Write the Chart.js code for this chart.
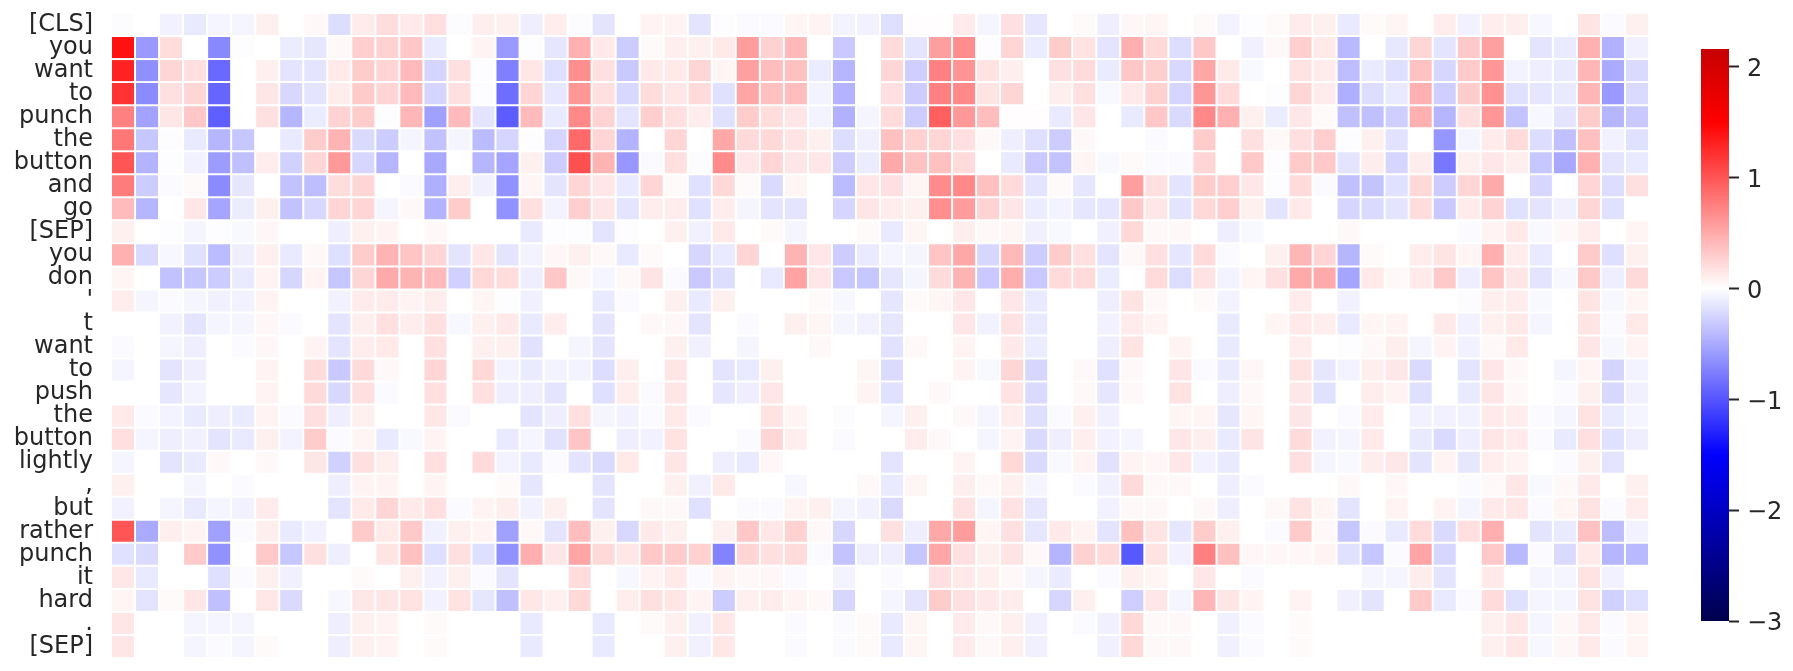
<!DOCTYPE html>
<html lang="en">

<head>
    <meta charset="UTF-8">
    <title>Token attribution heatmap</title>
    <script src="https://cdn.jsdelivr.net/npm/chart.js"></script>
    <style>
        body {
            margin: 0;
            background-color: #ffffff;
        }

        #heatmap {
            position: absolute;
            left: 0;
            top: 0;
        }

        #colorbar {
            position: absolute;
            left: 1701px;
            top: 0;
        }
    </style>
</head>

<body>
    <canvas id="heatmap" width="1793" height="671"></canvas>
    <canvas id="colorbar" width="92" height="671"></canvas>

    <script>
        const tokens = ["[CLS]", "you", "want", "to", "punch", "the", "button", "and", "go", "[SEP]",
            "you", "don", "'", "t", "want", "to", "push", "the", "button", "lightly",
            ",", "but", "rather", "punch", "it", "hard", ".", "[SEP]"];

        const colorbarTicks = [-3, -2, -1, 0, 1, 2];
        const colorbarMin = -3;
        const colorbarMax = 2.16;

        // one list per token, 64 values each
        const scores = [
            [-.02,0,-.08,-.13,-.06,-.06,.09,0,.04,-.2,.12,.2,.13,.19,-.02,.1,.09,-.1,.11,-.02,-.16,0,.07,.07,-.16,-.01,-.03,-.03,.06,.07,-.07,-.08,-.19,.01,.01,.12,-.06,.18,-.15,0,.03,-.1,.05,.06,0,.03,-.07,-.01,.03,.12,.09,-.13,.03,.06,0,.11,-.08,.11,.1,-.05,0,.16,-.03,.09],
            [1.4,-.6,.2,0,-.7,-.01,0,-.11,-.15,.04,.28,.27,.33,-.13,0,.07,-.6,-.01,-.15,.46,.13,-.3,.03,.1,.09,.13,.58,.27,.41,0,-.32,0,.21,-.16,.57,.67,-.01,.25,-.11,.3,.17,-.16,.47,.23,-.2,.32,0,-.09,.04,.28,.13,-.41,0,-.14,.24,-.16,.32,.56,0,-.16,-.12,.46,-.46,-.09],
            [1.3,-.66,.24,.19,-.88,0,.09,-.16,-.16,.13,.3,.25,.4,-.25,.18,-.01,-.75,.14,-.19,.66,.18,-.32,.13,.13,.24,.06,.56,.39,.37,-.11,-.43,0,.24,-.28,.75,.63,.17,.1,0,.18,.21,-.12,.33,.29,-.23,.52,.13,-.04,0,.17,.12,-.39,-.12,-.19,.36,-.24,.31,.61,-.07,-.1,-.13,.43,-.5,-.22],
            [1.2,-.68,.18,.24,-.9,0,.15,-.23,-.16,.11,.31,.25,.4,-.25,.18,-.01,-.86,.25,-.14,.61,.18,-.23,.2,.14,.21,-.18,.53,.37,.39,-.07,-.45,0,.19,-.3,.75,.7,.16,.24,0,.1,.18,-.04,.13,.27,-.25,.62,.21,0,-.01,.24,.12,-.47,-.2,-.13,.46,-.28,.3,.65,-.18,-.15,-.13,.43,-.6,-.22],
            [.75,-.54,.15,.33,-.94,0,.18,-.43,-.11,.26,.3,-.01,.43,-.56,.4,-.16,-.96,.4,-.13,.7,.26,-.16,.28,.19,.11,-.18,.3,.2,.15,-.07,-.46,-.06,.21,-.3,.94,.6,.39,.01,.01,-.13,.15,0,-.13,.33,-.22,.7,.46,.09,-.11,.14,.03,-.37,-.37,-.29,.46,-.43,.19,.61,-.35,-.05,-.16,.3,-.43,-.32],
            [.8,-.33,-.01,-.13,-.43,-.33,0,-.13,.3,.44,-.22,-.3,-.06,-.36,-.06,-.4,-.25,-.01,-.25,.88,.25,-.45,0,.24,0,.51,.22,.23,.16,.09,-.2,-.09,.37,.27,.25,.19,.04,-.1,-.19,-.3,.04,0,0,-.03,0,.3,0,.18,.04,.19,.28,-.01,.09,-.17,0,-.62,-.06,.12,.21,-.2,-.37,.37,-.08,-.18],
            [1.0,-.45,-.01,-.08,-.58,-.37,.11,-.27,.24,.6,-.24,-.43,0,-.51,0,-.43,-.53,.09,-.3,1.03,.44,-.61,-.03,.19,-.02,.68,.14,.25,.15,.14,-.3,-.11,.5,.36,.37,.21,0,-.13,-.32,-.35,.06,-.04,.03,-.03,-.03,.25,0,.32,-.01,.31,.32,-.16,.11,-.25,.11,-.8,.09,.14,.1,-.33,-.51,.46,-.16,-.13],
            [.77,-.3,-.03,.03,-.68,-.15,0,-.36,-.39,.2,.24,0,-.03,-.47,.1,-.09,-.65,.06,-.16,.24,.14,-.13,.25,.03,-.18,.23,.03,-.22,.06,0,-.4,.14,.18,.06,.68,.7,.37,.21,-.16,.03,-.15,0,.57,.18,-.16,.3,.28,.14,-.01,.21,-.03,-.37,-.35,-.18,.23,-.3,.25,.5,0,-.24,0,.25,-.2,.18],
            [.4,-.43,0,.14,-.53,-.11,.09,-.36,-.23,.25,.25,-.06,.04,-.45,.3,0,-.65,.18,-.07,.28,.15,-.16,.11,.11,-.18,.11,-.06,-.16,-.16,0,-.25,.15,.11,.09,.66,.58,.26,.15,-.11,-.07,-.15,-.15,.32,.14,-.16,.23,.28,.09,-.16,.13,0,-.25,-.22,-.16,.2,-.32,.12,.26,-.18,-.16,-.09,.24,-.18,0],
            [.09,0,-.01,-.06,-.01,-.04,.05,0,0,-.1,.09,.07,0,.04,0,0,0,-.13,-.01,-.01,-.16,-.01,0,.09,-.09,.13,0,.03,-.06,0,0,.03,-.13,.06,0,.1,.04,.06,-.09,-.04,0,-.09,.23,.04,.04,0,-.1,-.04,0,0,0,.04,0,0,0,0,-.03,.07,.13,-.04,.04,.11,0,.06],
            [.46,-.22,-.05,-.18,-.4,-.1,.09,-.13,.04,-.19,.3,.44,.35,.24,-.16,.14,-.16,-.07,.05,.09,.04,-.13,.03,0,-.24,-.13,.25,0,.44,.14,-.3,-.13,-.06,-.06,.35,.51,-.24,.41,-.3,.3,.18,-.16,.04,.18,-.15,.21,-.03,0,.09,.43,.25,-.43,.03,0,.11,.16,.06,.47,.11,-.13,0,.31,-.19,.09],
            [.06,0,-.36,-.33,-.3,-.13,.07,-.24,.07,-.33,.24,.5,.44,.4,-.27,.23,.2,-.1,.33,.04,-.06,.04,.16,-.03,-.32,-.2,0,-.13,.54,.14,-.32,-.33,-.15,-.06,.21,.44,-.32,.48,-.32,.21,.21,-.11,0,.21,-.2,.17,-.07,.06,.18,.5,.5,-.53,.13,.04,.13,.32,-.1,.35,.15,-.16,-.05,.32,-.1,.22],
            [.11,-.06,-.03,-.06,-.09,-.08,.07,0,0,-.08,.12,.12,.07,.11,0,.06,-.01,-.09,0,0,-.13,-.03,0,.09,-.13,.09,0,0,0,.03,-.05,0,-.15,.03,.06,.14,0,.14,-.13,0,0,-.1,.16,.04,0,.03,-.07,0,0,.12,0,-.08,0,0,0,0,-.02,.1,.11,-.04,0,.16,-.05,.06],
            [0,0,-.08,-.16,-.06,-.06,.05,-.03,0,-.16,.1,.18,.11,.18,-.05,.09,.13,-.13,.11,0,-.16,0,.04,.05,-.16,0,-.03,0,.09,.06,-.06,-.08,-.15,0,0,.14,-.08,.17,-.13,0,0,-.08,.12,.07,0,0,-.13,0,.06,.13,.1,-.13,.06,.07,0,.13,-.08,.09,.13,-.06,0,.16,-.03,.13],
            [-.03,0,-.06,-.1,0,-.03,.05,0,.07,-.16,.11,.13,0,.18,0,.09,.09,-.17,0,-.06,-.16,0,0,.09,-.09,0,-.06,0,0,.04,0,0,-.17,.04,0,.07,0,.13,-.11,0,0,-.1,.16,0,.07,0,-.13,0,0,.11,0,-.01,.04,.1,-.06,.07,-.08,.04,.13,0,0,.15,-.05,.07],
            [-.06,0,-.16,-.1,0,0,.07,0,.21,-.32,.22,.04,0,.24,0,.23,-.07,-.12,-.07,-.07,-.2,.1,0,.15,0,-.16,-.13,.09,0,0,0,.06,-.21,0,0,.07,-.04,.24,-.24,0,.04,-.18,.04,0,.15,-.03,-.12,.05,0,.17,-.15,-.07,.1,.14,-.22,0,-.16,.14,.04,0,-.06,.06,-.25,-.07],
            [0,0,-.15,-.07,0,0,.07,0,.22,-.23,.19,-.03,0,.19,0,.18,-.1,-.1,-.16,0,-.19,.11,-.03,.15,0,-.15,-.1,.14,0,0,0,.07,-.18,0,.04,0,0,.17,-.22,0,.04,-.15,.04,0,.17,0,-.1,.04,0,.14,-.18,0,.11,.07,-.19,0,-.13,.15,.04,0,-.03,.09,-.23,-.09],
            [.13,-.03,-.07,-.13,-.1,-.12,.07,-.03,.19,-.1,.09,0,0,.14,-.03,0,0,-.16,-.1,.18,-.06,-.08,-.03,.13,-.03,0,0,.17,.07,0,-.02,0,-.06,.09,0,.04,-.06,.11,-.19,-.03,.09,-.09,0,0,.06,.06,-.15,.06,0,.15,0,-.03,.12,0,-.08,-.08,-.08,.13,.11,-.03,-.06,.17,-.13,-.06],
            [.19,-.06,-.1,-.09,-.16,-.13,.09,-.07,.3,-.03,.06,-.13,-.04,.07,0,0,-.13,-.06,-.17,.35,0,-.1,-.08,.17,0,0,-.03,.24,.1,0,-.03,0,0,.11,.04,0,-.06,.07,-.22,-.1,.1,-.08,-.06,0,.14,.1,-.13,.16,0,.21,-.08,-.06,.13,0,-.13,-.22,-.1,.15,.12,-.03,-.13,.19,-.18,-.1],
            [-.06,0,-.16,-.12,.04,0,.04,0,.15,-.27,.18,.1,0,.19,0,.21,-.07,-.13,-.03,-.16,-.22,.13,0,.15,0,-.1,-.13,.05,0,0,0,0,-.16,0,0,.07,0,.23,-.22,-.04,.07,-.17,.07,.05,.14,-.08,-.13,0,0,.18,-.06,-.04,.11,.14,-.16,.07,-.15,.11,.07,0,-.03,.09,-.16,0],
            [.09,0,0,-.06,0,-.03,0,0,0,-.1,.07,.07,0,.07,0,0,.03,-.15,0,0,-.16,0,0,.09,-.09,.13,0,0,-.05,0,0,.04,-.13,.06,0,.1,.04,.09,-.06,0,-.03,-.09,.22,.04,.04,0,-.1,-.03,0,0,0,.04,0,.05,0,0,-.03,.04,.14,-.04,.04,.13,0,.09],
            [-.08,0,-.06,-.13,-.06,-.08,.12,0,0,-.16,.13,.24,.13,.19,-.03,.07,.1,-.08,.09,0,-.16,0,.04,.04,-.18,0,-.03,-.03,.07,.09,-.06,-.08,-.22,0,0,.17,-.06,.17,-.15,0,0,-.08,.04,.04,0,.04,-.1,0,.04,.17,.06,-.16,0,.07,0,.07,-.06,.13,.14,-.03,.06,.17,-.03,.11],
            [1.0,-.5,.1,.07,-.56,-.03,.1,-.13,-.08,0,.31,.13,.32,-.09,.09,.07,-.56,.04,-.16,.39,.09,-.23,.13,.09,0,.09,.33,.14,.27,.04,-.24,0,.18,-.1,.51,.58,.06,.18,-.15,.13,.07,-.16,.37,.16,-.15,.3,.09,0,-.03,.31,.04,-.33,-.03,-.13,.21,-.22,.19,.47,0,-.16,-.13,.36,-.38,-.08],
            [-.18,-.22,0,.31,-.65,0,.32,-.33,.18,-.1,0,.16,.37,-.19,.18,-.19,-.65,.47,.15,.53,.23,.14,.32,.3,.27,-.73,.25,.18,.21,-.03,-.35,-.1,-.1,-.33,.52,.18,.09,.16,.04,-.44,.27,.21,-.98,.17,-.08,.75,.37,.05,.05,.05,.07,-.18,-.33,-.03,.53,-.24,0,.32,-.41,-.03,-.22,.13,-.43,-.41],
            [.14,-.13,0,0,-.19,-.03,.09,-.09,0,0,.03,0,.09,-.08,.09,-.03,-.16,0,0,.2,0,-.05,.07,.13,-.03,.07,.04,.05,-.03,0,-.07,0,-.03,0,.19,.13,.09,.04,-.06,-.12,0,-.03,.09,.06,0,.14,0,-.03,0,0,0,0,-.06,-.06,.11,-.16,0,.13,0,-.06,-.06,.17,-.08,0],
            [.06,-.16,.03,.14,-.37,0,.14,-.22,0,-.05,.14,.15,.17,-.08,.17,-.15,-.37,.14,.09,.23,0,.11,.18,.15,.07,-.3,.09,.11,.07,.04,-.24,0,-.06,-.16,.3,.18,.13,.11,0,-.24,.09,0,-.28,.14,-.06,.43,.15,.07,0,.07,0,-.09,-.16,0,.31,-.13,-.03,.21,-.18,-.06,-.06,.17,-.27,-.19],
            [.15,0,0,-.06,-.06,-.06,0,0,0,-.1,.09,.07,0,.03,0,0,0,-.13,0,0,-.13,0,.03,.09,-.09,.14,0,0,-.03,0,-.03,.03,-.13,.06,0,.12,.04,.09,-.09,0,-.03,-.09,.23,.04,.04,0,-.09,-.03,0,.03,0,0,0,0,0,0,0,.09,.14,-.06,.05,.13,-.03,.06],
            [.15,0,0,-.06,-.03,-.06,.03,0,0,-.1,.09,.07,0,.03,0,0,0,-.13,0,0,-.13,0,0,.09,-.09,.14,0,0,-.03,0,-.03,.03,-.13,.06,0,.12,.04,.09,-.09,0,0,-.09,.23,.04,.04,0,-.09,-.03,0,.03,0,0,0,0,0,0,0,.09,.14,-.05,.05,.13,-.03,.06]
        ];

        const columnCount = scores[0].length;
        const textColor = "#262626";
        const fontFamily = "'DejaVu Sans', sans-serif";

        // seismic colormap, centred on 0 and running from -3 to 3
        function seismic(v) {
            let r, g, b;
            if (v < -1.5) {
                r = 0;
                g = 0;
                b = 0.3 + 0.7 * (v + 3) / 1.5;
            } else if (v < 0) {
                r = g = (v + 1.5) / 1.5;
                b = 1;
            } else if (v < 1.5) {
                r = 1;
                g = b = 1 - v / 1.5;
            } else {
                r = 1 - 0.5 * (v - 1.5) / 1.5;
                g = 0;
                b = 0;
            }
            return `rgb(${Math.round(r * 255)}, ${Math.round(g * 255)}, ${Math.round(b * 255)})`;
        }

        // each column of the heatmap is a dataset of floating horizontal bars
        const columnDatasets = [];
        for (let col = 0; col < columnCount; col++) {
            columnDatasets.push({
                data: scores.map(() => [col, col + 1]),
                backgroundColor: scores.map(row => seismic(row[col])),
                borderColor: "#ffffff",
                borderWidth: 1,
                borderSkipped: false,
                inflateAmount: 0,
                barPercentage: 1,
                categoryPercentage: 1,
                grouped: false
            });
        }

        new Chart(document.getElementById("heatmap"), {
            type: "bar",
            data: { labels: tokens, datasets: columnDatasets },
            options: {
                indexAxis: "y",
                responsive: false,
                animation: false,
                layout: { padding: { top: 13, right: 144, bottom: 13, left: 0 } },
                plugins: { legend: { display: false }, tooltip: { enabled: false } },
                scales: {
                    x: { type: "linear", min: 0, max: columnCount, display: false },
                    y: {
                        afterFit: scale => {
                            scale.width = 111;
                            scale.paddingTop = 0;
                            scale.paddingBottom = 0;
                        },
                        grid: { display: false, drawTicks: false },
                        border: { display: false },
                        ticks: {
                            autoSkip: false,
                            padding: 18,
                            color: textColor,
                            font: { family: fontFamily, size: 24 }
                        }
                    }
                }
            }
        });

        function colorbarFill(context) {
            const area = context.chart.chartArea;
            if (!area) return "#ffffff";
            const gradient = context.chart.ctx.createLinearGradient(0, area.bottom, 0, area.top);
            [-3, -1.5, 0, 1.5, colorbarMax].forEach(v => {
                gradient.addColorStop((v - colorbarMin) / (colorbarMax - colorbarMin), seismic(v));
            });
            return gradient;
        }

        new Chart(document.getElementById("colorbar"), {
            type: "bar",
            data: {
                labels: [""],
                datasets: [{
                    data: [[colorbarMin, colorbarMax]],
                    backgroundColor: colorbarFill,
                    borderWidth: 0,
                    barPercentage: 1,
                    categoryPercentage: 1
                }]
            },
            options: {
                responsive: false,
                animation: false,
                layout: { padding: { top: 49, right: 0, bottom: 50, left: 0 } },
                plugins: { legend: { display: false }, tooltip: { enabled: false } },
                scales: {
                    x: { display: false },
                    y: {
                        position: "right",
                        min: colorbarMin,
                        max: colorbarMax,
                        afterFit: scale => {
                            scale.width = 64;
                            scale.paddingTop = 0;
                            scale.paddingBottom = 0;
                        },
                        afterBuildTicks: scale => { scale.ticks = colorbarTicks.map(v => ({ value: v })); },
                        border: { display: false },
                        grid: {
                            drawOnChartArea: false,
                            drawTicks: true,
                            tickLength: 10,
                            tickWidth: 2,
                            tickColor: textColor
                        },
                        ticks: {
                            padding: 8,
                            labelOffset: 3,
                            color: textColor,
                            font: { family: fontFamily, size: 24 },
                            callback: v => v < 0 ? "\u2212" + Math.abs(v) : String(v)
                        }
                    }
                }
            }
        });
    </script>
</body>

</html>
